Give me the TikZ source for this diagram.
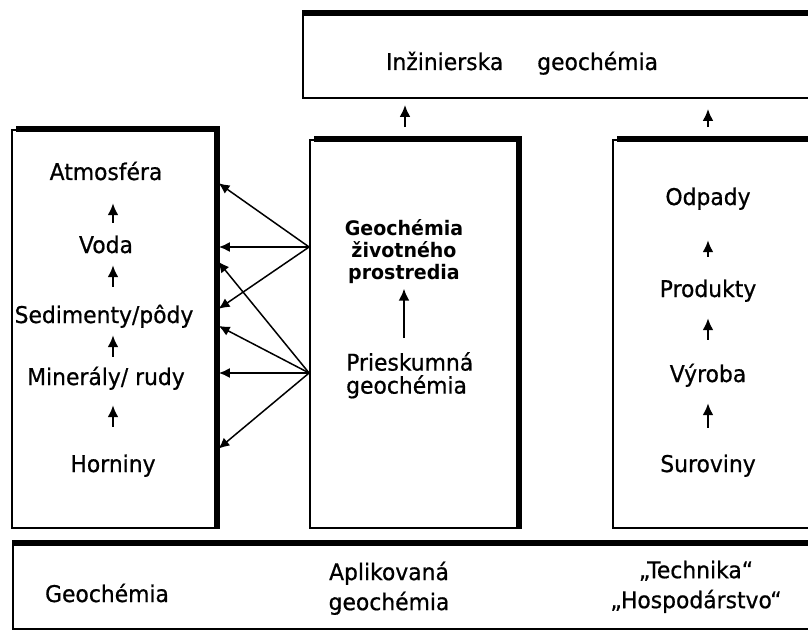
\documentclass[tikz,border=0pt]{standalone}
\usepackage{fontspec}
\setmainfont{DejaVu Sans}[FakeStretch=0.95]
\newfontfamily\lett{DejaVu Sans}[FakeStretch=0.95,FakeBold=0.7]
\usetikzlibrary{arrows.meta,calc}
\begin{document}
\begin{tikzpicture}[x=1pt,y=-1pt,
  box/.style={draw, line width=1.8pt, inner sep=0pt},
  heavy/.style={line width=6.5pt},
  lbl/.style={font=\lett\fontsize{23}{28}\selectfont, inner sep=0pt, anchor=base, text height=17pt, text depth=5pt},
  mlbl/.style={font=\lett\fontsize{23}{30}\selectfont, inner sep=0pt, anchor=north},
  blbl/.style={font=\fontsize{20}{22}\selectfont\bfseries, inner sep=0pt, align=center},
  up/.style={-{Latex[length=12pt,width=11pt]}, line width=2.3pt},
  link/.style={-{Latex[length=11pt,width=10pt]}, line width=1.5pt}]
\useasboundingbox (0,0) rectangle (808,631);
\clip (0,0) rectangle (808,631);
% boxes
\node[box, minimum width=537, minimum height=84] (T) at (571.5,56) {};
\node[box, minimum width=204, minimum height=398] (L) at (114,329) {};
\node[box, minimum width=208, minimum height=388] (M) at (414,334) {};
\node[box, minimum width=227, minimum height=388] (R) at (726.5,334) {};
\node[box, minimum width=827, minimum height=85] (B) at (426.5,586.5) {};
% heavy edges
\draw[heavy] (T.north west) -- (T.north east);
\draw[heavy] ([xshift=5pt]L.north west) -- (L.north east) -- (L.south east);
\draw[heavy] ([xshift=5pt]M.north west) -- (M.north east) -- (M.south east);
\draw[heavy] ([xshift=5pt]R.north west) -- (R.north east);
\draw[heavy] (B.north west) -- (B.north east);
% top text
\node[lbl] (ing) at (522,70) {Inžinierska\hspace{34pt}geochémia};
% left texts
\node[lbl] (atm) at (106,180) {Atmosféra};
\node[lbl] (voda) at (106,253) {Voda};
\node[lbl] (sed) at (104,323) {Sedimenty/pôdy};
\node[lbl] (min) at (106,385) {Minerály/ rudy};
\node[lbl] (horn) at (113,472) {Horniny};
\coordinate (lx) at (113,0);
\draw[up, shorten <=13pt, shorten >=18pt] (lx |- voda.north) -- (lx |- atm.south);
\draw[up, shorten <=19pt, shorten >=7pt] (lx |- sed.north) -- (lx |- voda.south);
\draw[up, shorten <=11pt, shorten >=7pt] (lx |- min.north) -- (lx |- sed.south);
\draw[up, shorten <=28pt, shorten >=15pt] (lx |- horn.north) -- (lx |- min.south);
% middle texts
\node[blbl, anchor=north] (env) at (404,219) {Geochémia\\životného\\prostredia};
\node[mlbl, align=left, anchor=north west, font=\lett\fontsize{23}{23}\selectfont] (prs) at (346,352) {Prieskumná\\geochémia};
\draw[up, shorten <=14pt, shorten >=5pt] (env.south |- prs.north) -- (env.south);
% right texts
\node[lbl] (odp) at (708,205) {Odpady};
\node[lbl] (prod) at (708,297) {Produkty};
\node[lbl] (vyr) at (708,382) {Výroba};
\node[lbl] (sur) at (708,472) {Suroviny};
\draw[up, shorten <=23pt, shorten >=30pt] (prod.north) -- (odp.south);
\draw[up, shorten <=25pt, shorten >=16pt] (vyr.north) -- (prod.south);
\draw[up, shorten <=27pt, shorten >=16pt] (sur.north) -- (vyr.south);
% arrows to top box
\draw[up, shorten <=12pt, shorten >=6pt] ([xshift=-9pt]M.north) -- ([xshift=-9pt]M.north |- T.south);
\draw[up, shorten <=12pt, shorten >=10pt] ([xshift=-18.5pt]R.north) -- ([xshift=-18.5pt]R.north |- T.south);
% links from middle to left
\coordinate (s1) at (M.west |- 0,247);
\coordinate (s2) at (M.west |- 0,373);
\coordinate (t1) at (L.east |- 0,182);
\coordinate (t2) at (L.east |- 0,247);
\coordinate (t3) at (L.east |- 0,310);
\coordinate (t4) at (L.east |- 0,260);
\coordinate (t5) at (L.east |- 0,325);
\coordinate (t6) at (L.east |- 0,373);
\coordinate (t7) at (L.east |- 0,450);
\foreach \t in {t1,t2,t3} \draw[link, shorten >=2pt] (s1) -- (\t);
\foreach \t in {t4,t5,t6,t7} \draw[link, shorten >=2pt] (s2) -- (\t);
% bottom texts
\node[lbl] (geo) at (107,602) {Geochémia};
\node[mlbl, align=center] (apl) at (389,561.5) {Aplikovaná\\geochémia};
\node[mlbl, align=center] (tech) at (696,560.5) {„Technika“\\„Hospodárstvo“};
\end{tikzpicture}
\end{document}
